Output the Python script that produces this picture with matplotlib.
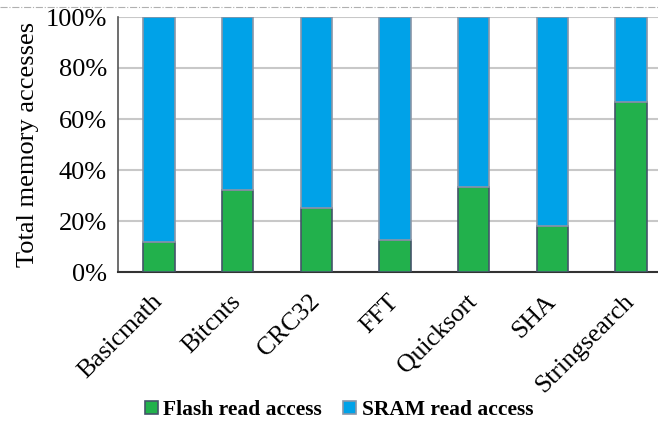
import matplotlib.pyplot as plt
import numpy as np

benchmarks = ["Basicmath", "Bitcnts", "CRC32", "FFT", "Quicksort", "SHA", "Stringsearch"]
flash = [11.8, 32.2, 25.0, 12.5, 33.3, 18.0, 66.7]
sram = [100 - f for f in flash]

plt.rcParams['font.family'] = ['Liberation Serif', 'DejaVu Serif']

fig = plt.figure(figsize=(6.58, 4.23), dpi=100)
ax = fig.add_axes([118 / 658, 1 - 272 / 423, 554 / 658, 255 / 423])

x = np.arange(len(benchmarks))
edge = "#44546a"
ax.bar(x, flash, width=0.4, color="#22b14c", edgecolor=edge, linewidth=1.2,
       label="Flash read access", zorder=3)
ax.bar(x, sram, width=0.4, bottom=flash, color="#00a2e8", edgecolor="#8a96a8",
       linewidth=1.2, label="SRAM read access", zorder=3)

ax.set_xlim(-0.52, 6.52)
ax.set_ylim(0, 100)
ax.set_yticks(np.arange(0, 101, 20))
ax.set_yticklabels([f"{v}%" for v in range(0, 101, 20)], fontsize=19)
ax.set_xticks(x)
ax.set_xticklabels(benchmarks, rotation=45, ha="right", va="center",
                   rotation_mode="anchor", fontsize=18.5)
ax.tick_params(axis="y", length=0, pad=8)
ax.tick_params(axis="x", length=0, pad=19)
ax.set_ylabel("Total memory accesses", fontsize=19, labelpad=5)
ax.grid(axis="y", color="#c8c8c8", linewidth=1.5, zorder=0)
for s in ["top", "right"]:
    ax.spines[s].set_visible(False)
ax.spines["left"].set_color("#555555")
ax.spines["bottom"].set_color("#333333")
ax.spines["left"].set_linewidth(1.2)
ax.spines["bottom"].set_linewidth(1.5)

leg = fig.legend(loc="center", bbox_to_anchor=(339 / 658, 1 - 410 / 423), ncol=2,
                 frameon=False, prop={"weight": "bold", "size": 15.5},
                 handlelength=0.6, handleheight=0.6, handletextpad=0.25, columnspacing=1.0)

# dashed rule at the top of the page
fig.add_artist(plt.Line2D([0, 1], [1 - 7 / 423, 1 - 7 / 423], color="#b0b0b0",
                          linestyle="-.", linewidth=0.8))

fig.savefig("out.png", dpi=100)
